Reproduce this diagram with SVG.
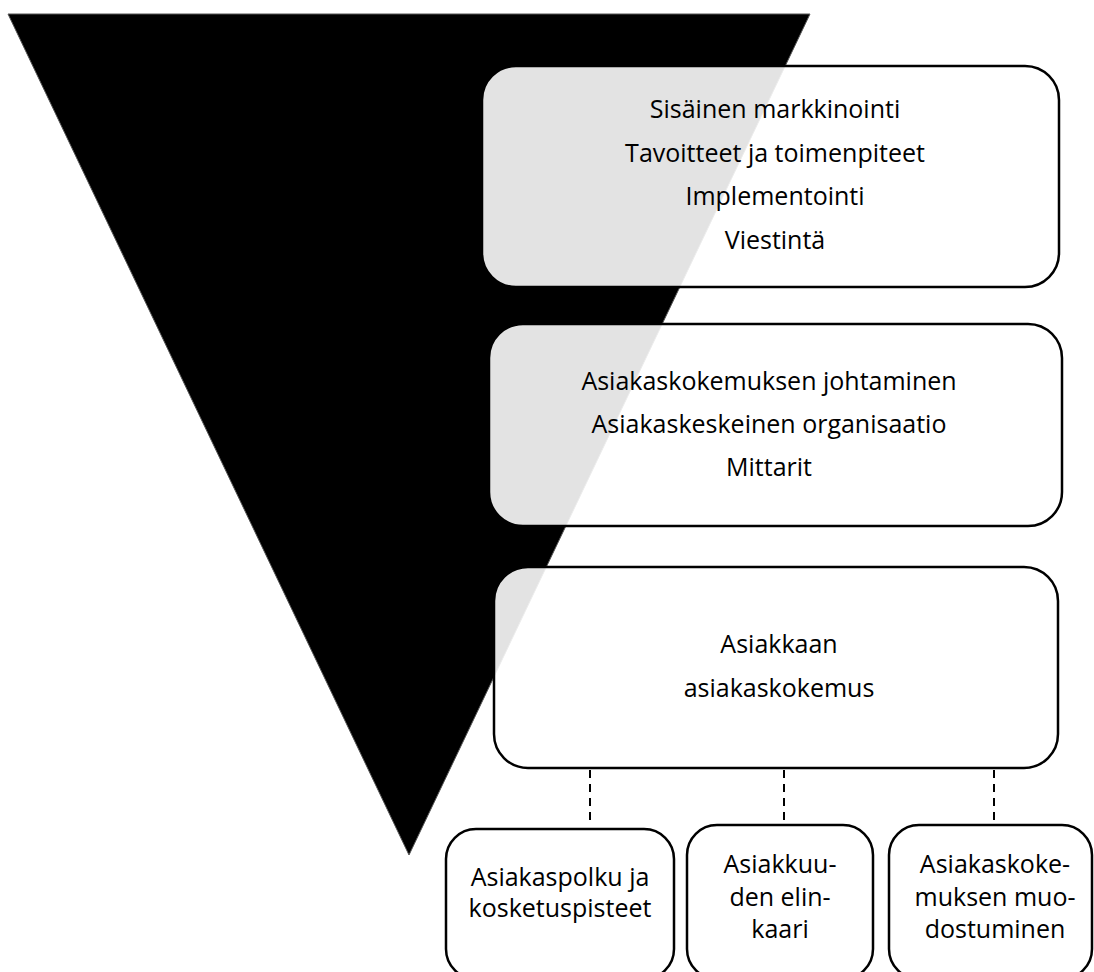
<svg xmlns="http://www.w3.org/2000/svg" width="1094" height="972" viewBox="0 0 1094 972">
<style>
.box{fill:#ffffff;fill-opacity:0.89;stroke:#000;stroke-width:2.5}
.sbox{fill:#ffffff;stroke:#000;stroke-width:2.5}
.t{font-family:"Open Sans",Lato,"Liberation Sans",sans-serif;font-size:25px;fill:#000;text-anchor:middle}
.dash{stroke:#000;stroke-width:2;stroke-dasharray:8,6;fill:none}
</style>
<rect width="1094" height="972" fill="#fff"/>
<g id="funnel">
<polygon points="8,14 810,14 409,855" fill="#000" stroke="#555" stroke-width="1"/>
</g>
<g id="connectors">
<line class="dash" x1="590" y1="770" x2="590" y2="822"/>
<line class="dash" x1="784" y1="770" x2="784" y2="822"/>
<line class="dash" x1="994" y1="770" x2="994" y2="822"/>
</g>
<g id="box1">
<rect class="box" x="482" y="66" width="577" height="221" rx="34"/>
<text class="t" x="775" y="118">Sisäinen markkinointi</text>
<text class="t" x="775" y="162">Tavoitteet ja toimenpiteet</text>
<text class="t" x="775" y="205">Implementointi</text>
<text class="t" x="775" y="249">Viestintä</text>
</g>
<g id="box2">
<rect class="box" x="489" y="324" width="573" height="202" rx="34"/>
<text class="t" x="769" y="390">Asiakaskokemuksen johtaminen</text>
<text class="t" x="769" y="433">Asiakaskeskeinen organisaatio</text>
<text class="t" x="769" y="476">Mittarit</text>
</g>
<g id="box3">
<rect class="box" x="494" y="567" width="564" height="201" rx="34"/>
<text class="t" x="779" y="653">Asiakkaan</text>
<text class="t" x="779" y="697">asiakaskokemus</text>
</g>
<g id="boxA">
<rect class="sbox" x="446" y="829" width="228" height="150" rx="30"/>
<text class="t" x="560" y="886">Asiakaspolku ja</text>
<text class="t" x="560" y="917">kosketuspisteet</text>
</g>
<g id="boxB">
<rect class="sbox" x="687" y="825" width="186" height="154" rx="30"/>
<text class="t" x="780" y="873">Asiakkuu-</text>
<text class="t" x="780" y="906">den elin-</text>
<text class="t" x="780" y="938">kaari</text>
</g>
<g id="boxC">
<rect class="sbox" x="889" y="825" width="203" height="154" rx="30"/>
<text class="t" x="995" y="873">Asiakaskoke-</text>
<text class="t" x="995" y="906">muksen muo-</text>
<text class="t" x="995" y="938">dostuminen</text>
</g>
</svg>
